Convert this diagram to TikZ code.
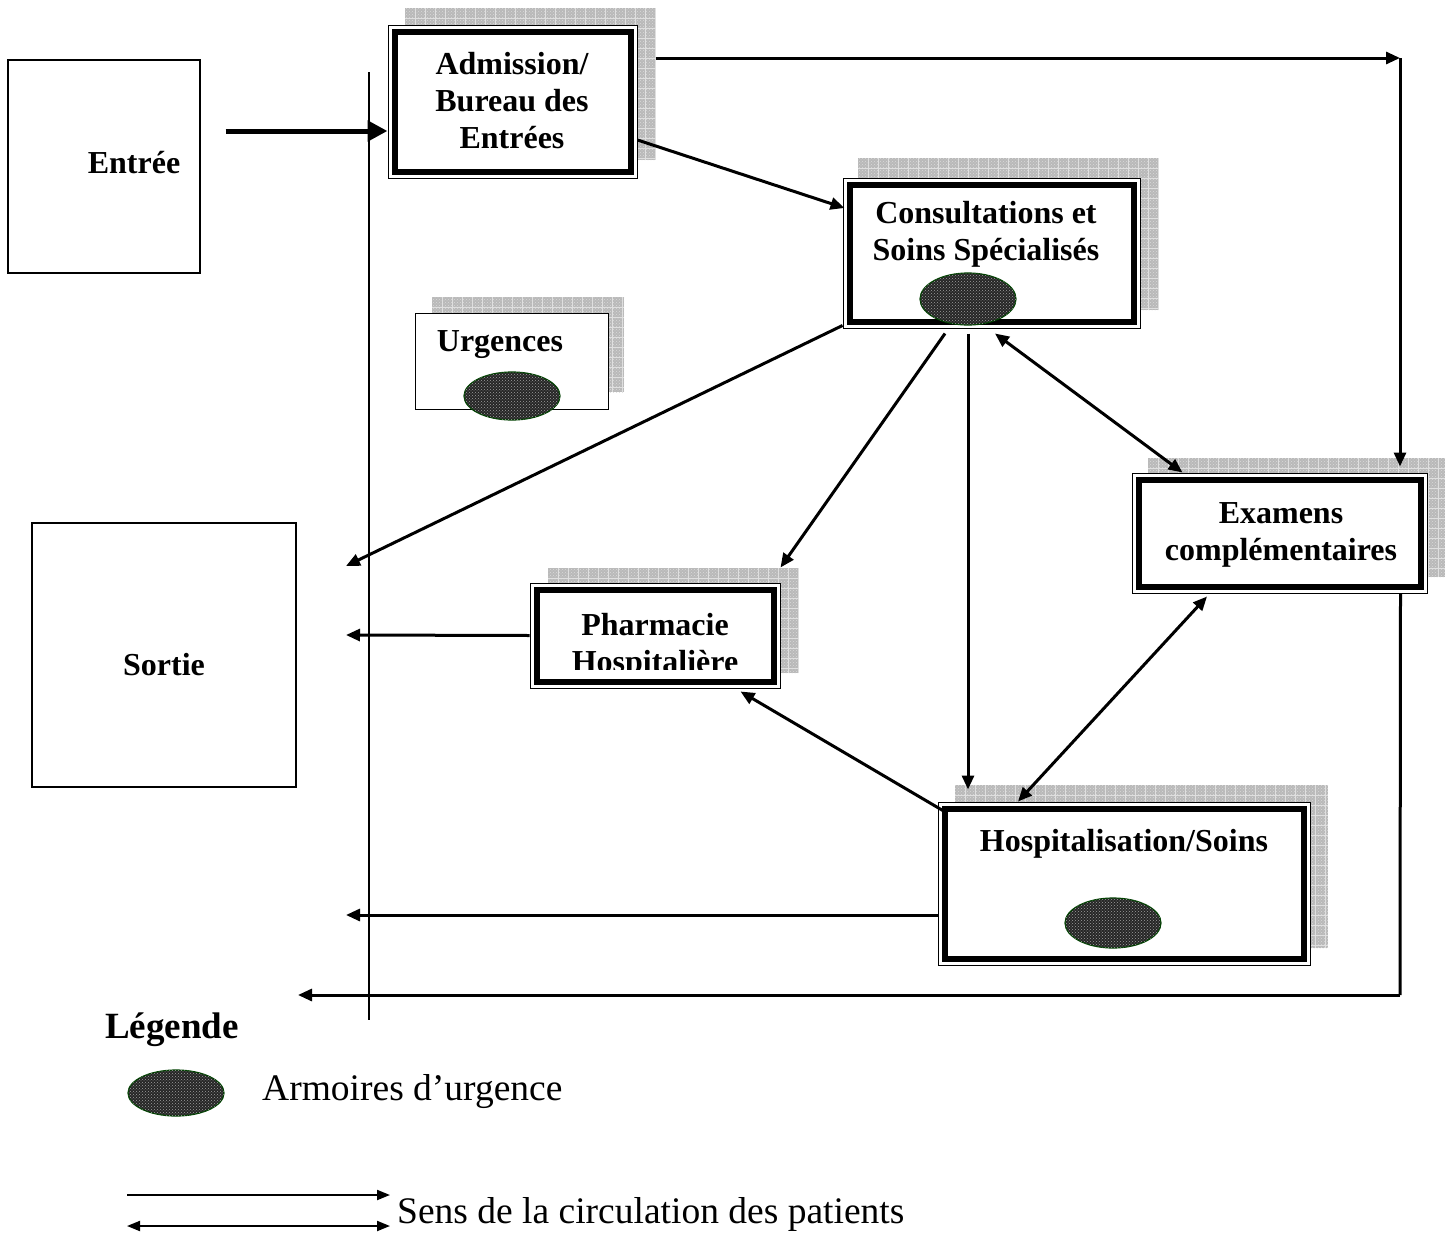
\documentclass[tikz,border=0pt]{standalone}
\usepackage{fontspec}
\setmainfont{Liberation Serif}
\usetikzlibrary{arrows.meta,shapes.geometric,patterns}
\newcommand{\shadowbox}[4]{%
  \fill[gray!55] (#1,#2) rectangle (#3,#4);
  \fill[pattern=crosshatch dots, pattern color=gray!30] (#1,#2) rectangle (#3,#4);
  \pgfmathsetmacro{\xa}{#1+10}\pgfmathsetmacro{\xb}{#1+20}
  \foreach \xx in {\xa,\xb,...,#3} {\draw[gray!25, line width=0.6pt] (\xx,#2) -- (\xx,#4);}
  \pgfmathsetmacro{\ya}{#2+10}\pgfmathsetmacro{\yb}{#2+20}
  \foreach \yy in {\ya,\yb,...,#4} {\draw[gray!25, line width=0.6pt] (#1,\yy) -- (#3,\yy);}
}
\begin{document}
\begin{tikzpicture}[x=1pt,y=-1pt,
  boxtxt/.style={font=\bfseries\fontsize{32}{37}\selectfont, align=center, inner sep=0pt},
  plainbox/.style={draw=black, line width=1.3pt, fill=white, inner sep=0pt},
  outerbox/.style={draw=black, line width=1pt, fill=white, inner sep=0pt},
  thickframe/.style={draw=black, line width=6pt},
  armoire/.style={ellipse, inner sep=0pt, fill=black!85, draw=green!25!black, line width=1.2pt,
    postaction={pattern=crosshatch dots, pattern color=gray!75}},
  conn/.style={line width=3pt, -{Triangle[length=14pt,width=12pt]}},
  dconn/.style={line width=3pt, {Triangle[length=14pt,width=12pt]}-{Triangle[length=14pt,width=12pt]}},
  legtxt/.style={font=\fontsize{37.5}{42}\selectfont, inner sep=0pt, anchor=west}
]
\useasboundingbox (0,0) rectangle (1454,1234);

% shadows
\shadowbox{405}{8}{655}{160}
\shadowbox{858}{158}{1158}{310}
\shadowbox{432}{297}{624}{392}
\shadowbox{1148}{458}{1445}{577}
\shadowbox{548}{568}{798}{673}
\shadowbox{955}{785}{1328}{948}

% plain boxes
\node[plainbox, minimum width=192pt, minimum height=213pt] (entree) at (104,166.5) {};
\node[boxtxt] (entreeT) at (134,163) {Entrée};
\node[plainbox, minimum width=264pt, minimum height=264pt] (sortie) at (164,655) {};
\node[boxtxt] (sortieT) at (164,665) {Sortie};

% vertical line
\coordinate (v1) at (369,72);
\coordinate (v2) at (369,1020);
\draw[line width=1.3pt] (v1) -- (v2);

% Admission
\node[outerbox, minimum width=249pt, minimum height=153pt] (adm) at (512.5,101.5) {};
\draw[thickframe] ([shift={(7,7)}]adm.north west) rectangle ([shift={(-7,-7)}]adm.south east);
\node[boxtxt] (admT) at (512,101) {Admission/\\Bureau des\\Entrées};

% Consultations
\node[outerbox, minimum width=297pt, minimum height=150pt] (cons) at (991.5,253) {};
\draw[thickframe] ([shift={(7,7)}]cons.north west) rectangle ([shift={(-7,-7)}]cons.south east);
\node[boxtxt] (consT) at (986,234) {Consultations et\\Soins Spécialisés};
\node[armoire, minimum width=96pt, minimum height=52pt] (consA) at (968,299) {};

% Urgences
\node[plainbox, line width=1pt, minimum width=193pt, minimum height=96pt] (urg) at (511.5,361) {};
\node[boxtxt] (urgT) at (500,345) {Urgences};
\node[armoire, minimum width=96pt, minimum height=48pt] (urgA) at (512,396) {};

% Examens
\node[outerbox, minimum width=295pt, minimum height=120pt] (exam) at (1279.5,533) {};
\draw[thickframe] ([shift={(7,7)}]exam.north west) rectangle ([shift={(-7,-7)}]exam.south east);
\node[boxtxt] (examT) at (1281,535) {Examens\\complémentaires};

% Pharmacie
\node[outerbox, minimum width=250pt, minimum height=105pt] (pharm) at (655,635.5) {};
\begin{scope}
\clip ([shift={(10,10)}]pharm.north west) rectangle ([shift={(-10,-19)}]pharm.south east);
\node[boxtxt] (pharmT) at (655,646) {Pharmacie\\Hospitalière};
\end{scope}
\draw[thickframe] ([shift={(7,7)}]pharm.north west) rectangle ([shift={(-7,-7)}]pharm.south east);

% Hospitalisation
\node[outerbox, minimum width=372pt, minimum height=163pt] (hosp) at (1124,883.5) {};
\draw[thickframe] ([shift={(7,7)}]hosp.north west) rectangle ([shift={(-7,-7)}]hosp.south east);
\node[boxtxt] (hospT) at (1124,844) {Hospitalisation/Soins};
\node[armoire, minimum width=96pt, minimum height=50pt] (hospA) at (1113,923) {};

% coordinates for free ends
\coordinate (tr) at (1400,58);
\coordinate (br) at (1400,995);
\coordinate (bl) at (298,995);
\coordinate (s1) at (346,566);
\coordinate (s2) at (346,635);
\coordinate (s3) at (346,915);

% connectors
\draw[line width=5pt, -{Triangle[length=20pt,width=20pt]}] ([xshift=25pt,yshift=35.5pt]entree.east) -- ([yshift=-29.5pt]adm.west);
\draw[conn] ([xshift=18pt,yshift=43.5pt]adm.east) -- (tr);
\draw[conn] (tr) -- ([xshift=120.5pt,yshift=6pt]exam.north);
\draw[conn] ([yshift=-38.5pt]adm.east) -- ([xshift=2pt,yshift=45pt]cons.west);
\draw[conn] ([yshift=3pt]cons.south west) -- (s1);
\draw[conn] ([xshift=-46.5pt,yshift=-5pt]cons.south) -- ([yshift=15pt]pharm.north east);
\draw[conn] ([xshift=-23.5pt,yshift=-5pt]cons.south) -- ([xshift=-156pt,yshift=12pt]hosp.north);
\draw[dconn] ([xshift=3.5pt,yshift=-5pt]cons.south) -- ([xshift=51pt]exam.north west);
\draw[line width=3pt] ([xshift=-27pt]exam.south east) -- (br);
\draw[conn] (br) -- (bl);
\draw[dconn] ([xshift=-72.5pt,yshift=-3pt]exam.south) -- ([xshift=-106pt]hosp.north);
\draw[conn] ([xshift=7pt,yshift=-10pt]hosp.north west) -- ([xshift=-40pt,yshift=-3pt]pharm.south east);
\draw[conn] (pharm.west) -- (s2);
\draw[conn] ([yshift=-31.5pt]hosp.west) -- (s3);

% legend
\node[font=\bfseries\fontsize{37}{42}\selectfont, inner sep=0pt] (legT) at (172,1030) {Légende};
\node[armoire, minimum width=96pt, minimum height=46pt] (legA) at (176,1093) {};
\node[legtxt] (legA2) at (262,1092) {Armoires d’urgence};
\coordinate (l1) at (127,1195);
\coordinate (l2) at (390,1195);
\coordinate (l3) at (127,1226);
\coordinate (l4) at (390,1226);
\draw[line width=2pt, -{Triangle[length=13pt,width=10pt]}] (l1) -- (l2);
\draw[line width=2pt, {Triangle[length=13pt,width=10pt]}-{Triangle[length=13pt,width=10pt]}] (l3) -- (l4);
\node[legtxt] (legB) at (397,1214) {Sens de la circulation des patients};
\end{tikzpicture}
\end{document}
